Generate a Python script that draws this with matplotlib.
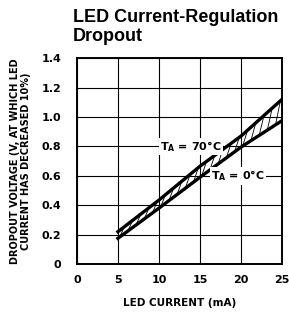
import numpy as np
import matplotlib.pyplot as plt
from matplotlib import font_manager

# data
current = [5, 10, 15, 20, 25]
v_70c = [0.22, 0.435, 0.665, 0.87, 1.12]
v_0c = [0.175, 0.38, 0.59, 0.795, 0.975]
xticks = [0, 5, 10, 15, 20, 25]
yticks = [0, 0.2, 0.4, 0.6, 0.8, 1.0, 1.2, 1.4]
ytick_labels = ['0', '0.2', '0.4', '0.6', '0.8', '1.0', '1.2', '1.4']

names = {f.name for f in font_manager.fontManager.ttflist}
narrow = 'Liberation Sans Narrow' if 'Liberation Sans Narrow' in names else 'DejaVu Sans'

fig = plt.figure(figsize=(2.89, 3.14), dpi=100)
ax = fig.add_axes([0.266, 0.159, 0.71, 0.656])

# steep hatching between the two curves
for x0 in np.arange(5.2, 24.6, 1.0):
    x1 = x0 + 0.6
    ax.plot([x0, x1], [np.interp(x0, current, v_0c), np.interp(x1, current, v_70c)],
            color='black', linewidth=0.6, zorder=2)
ax.plot(current, v_70c, color='black', linewidth=2.4, zorder=3)
ax.plot(current, v_0c, color='black', linewidth=2.4, zorder=3)

ax.set_xlim(0, 25)
ax.set_ylim(0, 1.4)
ax.set_xticks(xticks)
ax.set_yticks(yticks)
ax.set_yticklabels(ytick_labels)
ax.grid(True, color='black', linewidth=0.8)
ax.set_axisbelow(True)
ax.tick_params(length=0, labelsize=8)
ax.tick_params(axis='x', pad=8)
ax.tick_params(axis='y', pad=11)
for lab in ax.get_xticklabels() + ax.get_yticklabels():
    lab.set_family(narrow)
    lab.set_fontweight('bold')
for s in ax.spines.values():
    s.set_linewidth(1.4)

ax.text(13.9, 0.8, r'T$_\mathregular{A}$ = 70°C', ha='center', va='center',
        fontsize=8, fontweight='bold', family=narrow,
        bbox=dict(facecolor='white', edgecolor='none', pad=1), zorder=4)
ax.text(19.6, 0.6, r'T$_\mathregular{A}$ = 0°C', ha='center', va='center',
        fontsize=8, fontweight='bold', family=narrow,
        bbox=dict(facecolor='white', edgecolor='none', pad=1), zorder=4)

ax.set_xlabel('LED CURRENT (mA)', fontsize=7.5, family=narrow,
              fontweight='bold', labelpad=9)
ax.set_ylabel('DROPOUT VOLTAGE (V, AT WHICH LED\nCURRENT HAS DECREASED 10%)',
              fontsize=7, family=narrow, fontweight='bold', labelpad=8,
              linespacing=1.1)

fig.text(0.253, 0.914, 'LED Current-Regulation\nDropout', fontsize=13,
         fontweight='bold', family='Liberation Sans', ha='left', va='center',
         linespacing=1.2)

fig.savefig('out.png', dpi=100)
